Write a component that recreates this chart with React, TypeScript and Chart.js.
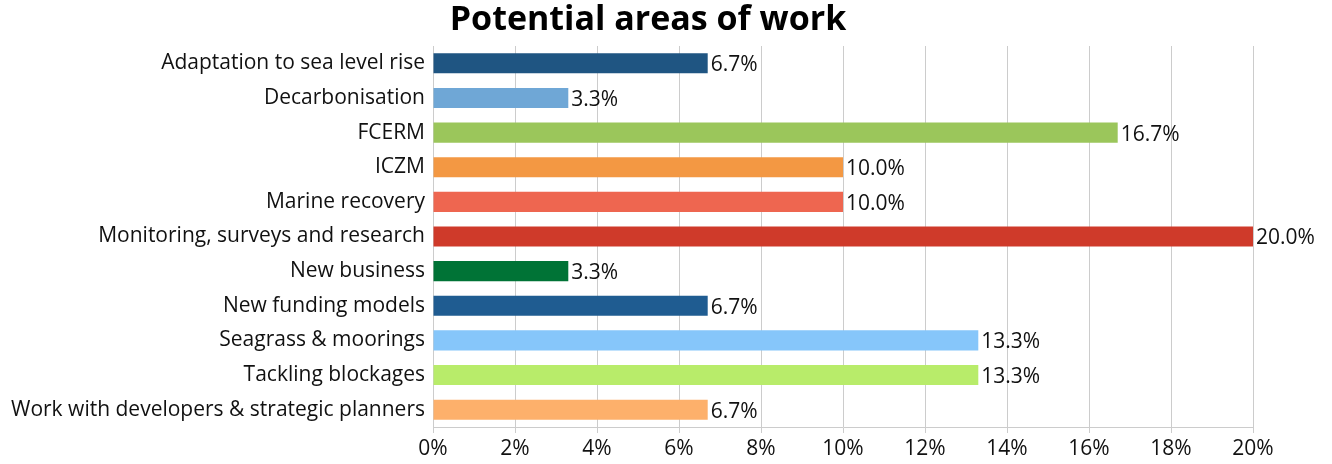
import React, { useEffect, useRef } from "react";
import { Chart, registerables } from "chart.js";

Chart.register(...registerables);

const titleText = "Potential areas of work";

const categories = [
  "Adaptation to sea level rise",
  "Decarbonisation",
  "FCERM",
  "ICZM",
  "Marine recovery",
  "Monitoring, surveys and research",
  "New business",
  "New funding models",
  "Seagrass & moorings",
  "Tackling blockages",
  "Work with developers & strategic planners",
];

const values = [6.7, 3.3, 16.7, 10.0, 10.0, 20.0, 3.3, 6.7, 13.3, 13.3, 6.7];

const barColors = [
  "#1F5582",
  "#6FA7D6",
  "#9BC65B",
  "#F39843",
  "#EE6650",
  "#CF3A2A",
  "#007336",
  "#1F5C91",
  "#86C6FA",
  "#B8EC6A",
  "#FDB06B",
];

const tickValues = [0, 2, 4, 6, 8, 10, 12, 14, 16, 18, 20];

const FONT = "'Open Sans', 'Noto Sans', sans-serif";

const valueLabels = {
  id: "valueLabels",
  afterDatasetsDraw(chart: any) {
    const ctx = chart.ctx;
    const meta = chart.getDatasetMeta(0);
    ctx.save();
    ctx.font = `21px ${FONT}`;
    ctx.fillStyle = "#111";
    ctx.textAlign = "left";
    ctx.textBaseline = "middle";
    meta.data.forEach((bar: any, i: number) => {
      const v = chart.data.datasets[0].data[i];
      ctx.fillText(v.toFixed(1) + "%", bar.x + 3, bar.y + 2);
    });
    ctx.restore();
  },
};

const titlePlugin = {
  id: "customTitle",
  afterDraw(chart: any) {
    const ctx = chart.ctx;
    ctx.save();
    ctx.font = `bold 34px ${FONT}`;
    ctx.fillStyle = "#000";
    ctx.textAlign = "center";
    ctx.textBaseline = "middle";
    ctx.fillText(titleText, 648, 20);
    ctx.restore();
  },
};

export default function App() {
  const ref = useRef<HTMLCanvasElement>(null);
  useEffect(() => {
    document.body.style.margin = "0";
    const chart = new Chart(ref.current!, {
      type: "bar",
      data: {
        labels: categories,
        datasets: [
          {
            data: values,
            backgroundColor: barColors,
            borderWidth: 0,
            barPercentage: 0.58,
            categoryPercentage: 1,
          },
        ],
      },
      options: {
        indexAxis: "y",
        responsive: false,
        animation: false,
        layout: { padding: { left: 0, right: 79, top: 46, bottom: 0 } },
        plugins: {
          legend: { display: false },
          tooltip: { enabled: false },
          title: { display: false },
        },
        scales: {
          x: {
            min: 0,
            max: 20,
            afterBuildTicks(scale: any) {
              scale.ticks = tickValues.map((v) => ({ value: v }));
            },
            afterFit(scale: any) {
              scale.height = 37;
            },
            ticks: {
              callback: (v: any) => v + "%",
              color: "#111",
              font: { family: FONT, size: 21 },
              padding: 3,
              maxRotation: 0,
            },
            grid: { color: "#CCCCCC", lineWidth: 1, tickLength: 6 },
            border: { color: "#CCCCCC" },
          },
          y: {
            afterFit(scale: any) {
              scale.width = 433;
            },
            ticks: {
              color: "#111",
              font: { family: FONT, size: 21 },
              padding: 0,
            },
            grid: { display: false, tickLength: 8 },
            border: { color: "#CCCCCC" },
          },
        },
      },
      plugins: [valueLabels, titlePlugin],
    });
    return () => chart.destroy();
  }, []);
  return (
    <div style={{ width: 1332, height: 464 }}>
      <canvas ref={ref} width={1332} height={464} />
    </div>
  );
}
